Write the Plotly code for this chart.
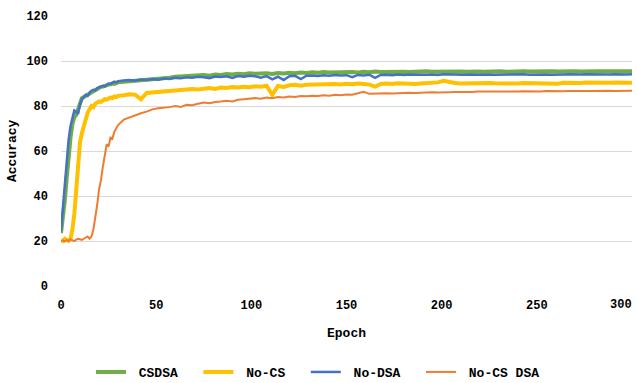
import plotly.graph_objects as go

# Epochs: every epoch for the first 30, then every 3rd epoch
epochs = list(range(0, 31)) + list(range(33, 301, 3))

csdsa = [
    23.5, 30, 38, 48, 58, 66, 72, 75, 76, 79,
    82, 83.5, 84, 84.5, 85.5, 86, 86.5, 87, 87.5, 87.8,
    88, 88.5, 88.6, 89, 89.2, 89.5, 89.6, 90, 89.8, 90.2,
    90.5,
    90.8, 91, 91.3, 91.6, 91.5, 92, 92.2, 92.5, 92.6, 93,
    93.2, 93.1, 93.5, 93.6, 93.8, 93.5, 94, 93.8, 94.2, 94,
    94.3, 94.1, 94.5, 94.3, 94.4, 94.6, 94.2, 94.7, 94.5, 94.8,
    94.6, 94.9, 94.7, 95, 94.8, 95.1, 94.9, 95, 95.2, 95,
    95.1, 94.9, 95.2, 95, 95.3, 95.1, 95.2, 95, 95.3, 95.2,
    95.1, 95.3, 95.2, 95.4, 95.2, 95.3, 95.1, 95.4, 95.2, 95.3,
    95.2, 95.4, 95.3, 95.2, 95.4, 95.3, 95.4, 95.2, 95.4, 95.3,
    95.5, 95.3, 95.4, 95.3, 95.5, 95.4, 95.3, 95.5, 95.4, 95.5,
    95.3, 95.5, 95.4, 95.5, 95.4, 95.5, 95.4, 95.5, 95.4, 95.5,
]

no_cs = [
    20.5, 20, 21, 20.2, 20, 21, 25, 32, 44, 56,
    64, 68, 71, 75, 77, 78.5, 80, 79.5, 81, 81.5,
    82, 81.8, 82.5, 83, 82.8, 83.5, 83.8, 83.5, 84.2, 84,
    84.5,
    84.8, 85.2, 85, 83, 85.8, 86, 86.3, 86.6, 86.5, 87,
    86.8, 87.2, 87.5, 87.3, 87.8, 88, 87.6, 88.2, 88, 88.4,
    88.2, 88.6, 88.3, 88.8, 88.6, 89, 85, 88.9, 88.5, 89.2,
    89.4, 89, 89.5, 89.6, 89.3, 89.7, 89.5, 89.8, 89.6, 89.9,
    89.7, 90, 89.8, 89.5, 88.6, 89.8, 90, 89.8, 90.1, 89.9,
    90.1, 89.8, 90, 90.2, 90, 90.5, 91.2, 90.6, 90.2, 90,
    90.1, 89.9, 90.1, 90, 90.2, 90.1, 90, 90.2, 90.1, 90,
    90.2, 90.1, 90, 90.2, 90.1, 90, 89.9, 90.3, 90.2, 90.3,
    90.2, 90.4, 90.3, 90.2, 90.4, 90.3, 90.4, 90.3, 90.4, 90.3,
]

no_dsa = [
    24.5, 34, 45, 56, 65, 71, 75, 78, 77.5, 76.5,
    81, 83, 84, 85, 84.5, 86, 86.8, 87.2, 87, 88,
    88.3, 88.8, 89, 88.7, 89.5, 90, 89.8, 90.3, 90.8, 90.5,
    91,
    91.3, 91.5, 91.2, 91.8, 91.6, 92, 91.7, 92.2, 92, 92.5,
    92.3, 92.8, 92.6, 93, 92.8, 92.4, 93.1, 92.9, 93.2, 92.5,
    93.3, 93, 93.4, 93.2, 92.6, 93.3, 91.8, 93, 91.5, 93.2,
    93.4, 92, 93.5, 93.6, 93.3, 93.7, 93.5, 93.8, 93.6, 93.7,
    92.8, 93.8, 93.6, 93.9, 92.5, 93.8, 93.9, 93.7, 94, 93.8,
    94, 93.9, 94.1, 93.9, 94, 93.8, 94.1, 93.9, 94, 93.9,
    94.1, 94, 93.9, 94.1, 94, 93.9, 94, 94.1, 93.9, 94,
    94.1, 93.9, 94, 94.1, 94, 93.9, 94.1, 94, 94.1, 93.9,
    94, 94.1, 94, 93.9, 94.1, 94, 94.1, 93.9, 94, 94.1,
]

no_cs_dsa = [
    20, 20.3, 19.8, 20.5, 20, 20.8, 20.3, 20, 20.6, 21,
    20.8, 20.5, 21, 21.5, 22, 21, 22, 25, 30, 36,
    43, 47, 53, 58, 63, 62, 66, 65.5, 68.5, 70,
    71.5,
    74, 75, 76, 76.8, 77.5, 78.5, 79, 79.2, 79.5, 80,
    79.6, 80.5, 80.3, 81, 81.5, 81.2, 81.8, 82, 82.3, 82,
    82.8, 83, 83.3, 83.5, 83.2, 83.8, 83.5, 84, 83.8, 84.2,
    84, 84.4, 84.3, 84.6, 84.5, 84.8, 84.6, 85, 84.8, 85.1,
    85, 85.8, 86.3, 85.4, 85.6, 85.5, 85.7, 85.6, 85.8, 85.7,
    85.9, 85.8, 86, 85.9, 86.1, 86, 86.2, 86.1, 86.2, 86.1,
    86.3, 86.2, 86.4, 86.3, 86.5, 86.4, 86.5, 86.4, 86.6, 86.5,
    86.6, 86.5, 86.6, 86.5, 86.7, 86.6, 86.7, 86.6, 86.7, 86.6,
    86.8, 86.7, 86.7, 86.8, 86.7, 86.8, 86.7, 86.8, 86.8, 86.8,
]

series_names = ["CSDSA", "No-CS", "No-DSA", "No-CS DSA"]
x_ticks = [0, 50, 100, 150, 200, 250, 300]
x_tick_labels = ["0", "50", "100", "150", "200", "250", "300"]
y_ticks = [0, 20, 40, 60, 80, 100, 120]

FONT = "Liberation Mono, DejaVu Sans Mono, monospace"
NB = "\u00a0"
TICKFONT = dict(family=FONT, size=12, color="#000000", weight="bold")

styles = [
    dict(color="#70AD47", width=4),
    dict(color="#FFC000", width=4),
    dict(color="#4472C4", width=2.5),
    dict(color="#ED7D31", width=2),
]

fig = go.Figure()
n = len(series_names)
for i, (name, ys, st) in enumerate(zip(series_names, [csdsa, no_cs, no_dsa, no_cs_dsa], styles)):
    label = NB + name + (NB * 2 if i < n - 1 else "")
    fig.add_trace(go.Scatter(x=epochs, y=ys, mode="lines", name=label,
                             line=dict(color=st["color"], width=st["width"])))

# the last tick label sits at the right edge: draw it right-aligned so it stays inside
tick_text = [t if v != x_ticks[-1] else "" for v, t in zip(x_ticks, x_tick_labels)]
last_label = dict(text=x_tick_labels[-1], xref="x", yref="paper", x=x_ticks[-1], y=-0.0704,
                  xanchor="right", yanchor="middle", showarrow=False, xshift=2,
                  font=TICKFONT)

fig.update_layout(
    width=637, height=383,
    margin=dict(l=61, r=5, t=16, b=97, autoexpand=False),
    paper_bgcolor="white", plot_bgcolor="white",
    font=dict(family=FONT, size=12, color="#000000", weight="bold"),
    showlegend=True,
    legend=dict(orientation="h", x=0.45, xanchor="center", y=-0.3185, yanchor="middle",
                font=dict(family=FONT, size=13, color="#000000", weight="bold"),
                itemwidth=30, bgcolor="rgba(0,0,0,0)"),
    xaxis=dict(range=[0, 300], tickvals=x_ticks, ticktext=tick_text, showgrid=False,
               zeroline=False, showline=False, ticks="", ticklabelstandoff=10,
               automargin=False, tickfont=TICKFONT),
    yaxis=dict(range=[0, 120], tickvals=y_ticks, showgrid=True, gridcolor="#d9d9d9",
               gridwidth=1, zeroline=False, showline=False, ticks="", ticklabelstandoff=12,
               automargin=False, tickfont=TICKFONT),
    annotations=[
        last_label,
        dict(text="Epoch", xref="paper", yref="paper", x=0.5, y=-0.175,
             xanchor="center", yanchor="middle", showarrow=False,
             font=dict(family=FONT, size=13, color="#000000", weight="bold")),
        dict(text="Accuracy", xref="paper", yref="paper", x=-0.0858, y=0.5,
             xanchor="center", yanchor="middle", showarrow=False, textangle=-90,
             font=dict(family=FONT, size=13, color="#000000", weight="bold")),
    ],
)

fig.write_html("out.html", config={"displayModeBar": False},
               post_script="document.body.style.margin='0';document.body.style.overflow='hidden';")
